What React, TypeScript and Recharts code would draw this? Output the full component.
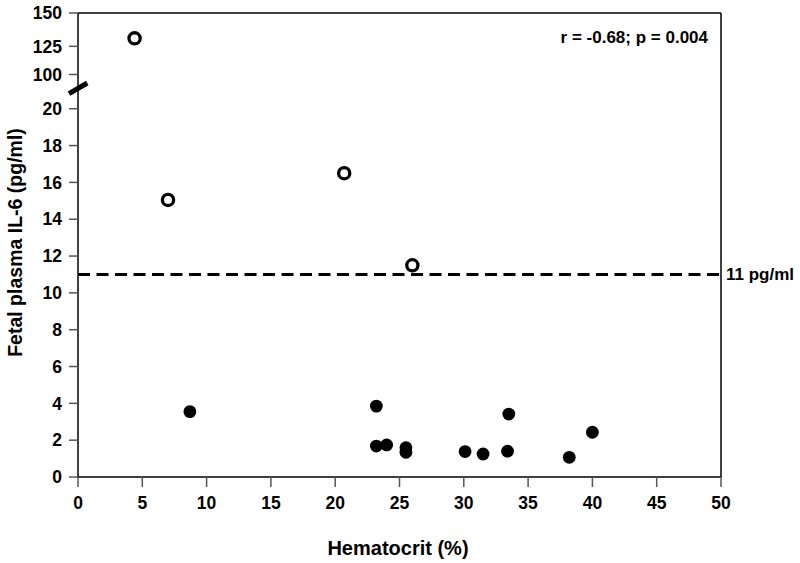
import React from "react";
import {
  ScatterChart,
  Scatter,
  XAxis,
  YAxis,
  ReferenceLine,
} from "recharts";

// ---- data ----
const openHematocrit = [4.4, 7.0, 20.7, 26.0];
const openIL6 = [131, 15.05, 16.5, 11.5];

const filledHematocrit = [8.7, 23.2, 23.2, 24.0, 25.5, 25.5, 30.1, 31.5, 33.5, 33.4, 38.2, 40.0];
const filledIL6 = [3.55, 3.85, 1.68, 1.74, 1.59, 1.34, 1.38, 1.25, 3.42, 1.40, 1.07, 2.43];

const xTicks = [0, 5, 10, 15, 20, 25, 30, 35, 40, 45, 50];
const yTickLabels = [0, 2, 4, 6, 8, 10, 12, 14, 16, 18, 20, 100, 125, 150];
const thresholdValue = 11;
const thresholdLabel = "11 pg/ml";
const statsText = "r = -0.68; p = 0.004";
const xTitle = "Hematocrit (%)";
const yTitle = "Fetal plasma IL-6 (pg/ml)";

// broken-axis scale: values above the break are mapped onto compressed units
const breakValues = [100, 125, 150];
const breakUnits = [21.86, 23.39, 25.2];

const toAxis = (v: number): number => {
  if (v <= 20) return v;
  if (v <= breakValues[0]) return breakUnits[0];
  for (let i = 0; i < breakValues.length - 1; i++) {
    const a = breakValues[i];
    const b = breakValues[i + 1];
    if (v <= b) {
      return breakUnits[i] + ((v - a) / (b - a)) * (breakUnits[i + 1] - breakUnits[i]);
    }
  }
  return breakUnits[breakUnits.length - 1];
};

const openData = openHematocrit.map((x, i) => ({ x, y: toAxis(openIL6[i]) }));
const filledData = filledHematocrit.map((x, i) => ({ x, y: toAxis(filledIL6[i]) }));
const yTicks = yTickLabels.map(toAxis);
const yTop = toAxis(150);

const labelFor = (t: number): string => {
  const idx = yTicks.findIndex((v) => Math.abs(v - t) < 1e-6);
  return idx >= 0 ? String(yTickLabels[idx]) : "";
};

const FONT = "'Liberation Sans', Arial, sans-serif";

const OpenDot = (props: any) => (
  <circle cx={props.cx} cy={props.cy} r={5.6} fill="#fff" stroke="#000" strokeWidth={3.3} />
);
const FilledDot = (props: any) => (
  <circle cx={props.cx} cy={props.cy} r={6.4} fill="#000" />
);

export default function App() {
  const W = 800;
  const H = 563;
  return (
    <div style={{ position: "absolute", left: 0, top: 0, width: W, height: H, background: "#fff" }}>
      <ScatterChart
        width={W}
        height={H}
        margin={{ top: 13, right: 79, bottom: 0, left: 0 }}
        style={{ fontFamily: FONT }}
      >
        <XAxis
          type="number"
          dataKey="x"
          domain={[0, 50]}
          ticks={xTicks}
          height={86}
          tickSize={10}
          tickMargin={10}
          axisLine={{ stroke: "#000", strokeWidth: 1.5 }}
          tickLine={{ stroke: "#555", strokeWidth: 1.5 }}
          tick={{ fill: "#000", fontSize: 17.5, fontWeight: "bold", fontFamily: FONT }}
          interval={0}
        />
        <YAxis
          type="number"
          dataKey="y"
          domain={[0, yTop]}
          ticks={yTicks}
          width={78}
          tickSize={9}
          tickMargin={7}
          interval={0}
          tickFormatter={labelFor}
          axisLine={{ stroke: "#000", strokeWidth: 1.5 }}
          tickLine={{ stroke: "#555", strokeWidth: 1.5 }}
          tick={{ fill: "#000", fontSize: 17.5, fontWeight: "bold", fontFamily: FONT }}
          allowDataOverflow
        />
        <ReferenceLine y={yTop} stroke="#000" strokeWidth={1.5} />
        <ReferenceLine x={50} stroke="#000" strokeWidth={1.5} />
        <ReferenceLine
          y={thresholdValue}
          stroke="#000"
          strokeWidth={3}
          strokeDasharray="12 6.5"
          label={{
            value: thresholdLabel,
            position: "right",
            fill: "#000",
            fontSize: 17,
            fontWeight: "bold",
            fontFamily: FONT,
          }}
        />
        <ReferenceLine
          segment={[
            { x: -0.7, y: 20.82 },
            { x: 0.72, y: 21.4 },
          ]}
          stroke="#000"
          strokeWidth={5}
          ifOverflow="visible"
        />
        <Scatter data={filledData} shape={FilledDot} isAnimationActive={false} />
        <Scatter data={openData} shape={OpenDot} isAnimationActive={false} />
      </ScatterChart>
      <svg
        width={W}
        height={H}
        style={{ position: "absolute", left: 0, top: 0, pointerEvents: "none" }}
      >
        <text
          x={708}
          y={43}
          textAnchor="end"
          fontSize={17}
          fontWeight="bold"
          fontFamily={FONT}
          fill="#000"
        >
          {statsText}
        </text>
        <text
          x={398}
          y={555}
          textAnchor="middle"
          fontSize={20}
          fontWeight="bold"
          fontFamily={FONT}
          fill="#000"
        >
          {xTitle}
        </text>
        <text
          x={22}
          y={242.5}
          textAnchor="middle"
          fontSize={19.5}
          fontWeight="bold"
          fontFamily={FONT}
          fill="#000"
          transform="rotate(-90 22 242.5)"
        >
          {yTitle}
        </text>
      </svg>
    </div>
  );
}
